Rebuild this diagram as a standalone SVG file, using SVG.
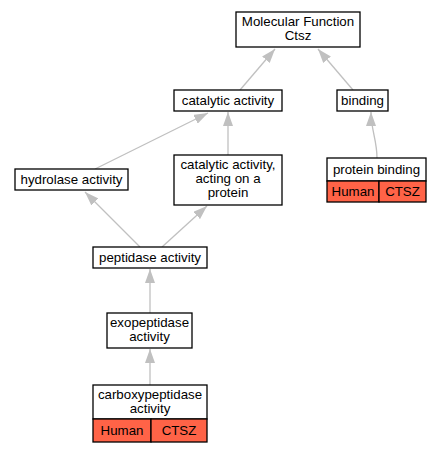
<svg xmlns="http://www.w3.org/2000/svg" width="440" height="453" viewBox="0 0 440 453">
<defs>
<marker id="ah" viewBox="0 0 14 10" refX="14" refY="5" markerWidth="14" markerHeight="10" markerUnits="userSpaceOnUse" orient="auto">
<path d="M0,0 L14,5 L0,10 z" fill="#c0c0c0"/>
</marker>
</defs>
<style>
.n{fill:#fff;stroke:#000;stroke-width:1.3}
.r{fill:#ff6347;stroke:#000;stroke-width:1.3}
.t{font-family:"Liberation Sans",Arial,sans-serif;font-size:13.3px;text-anchor:middle;fill:#000}
.e{fill:none;stroke:#c0c0c0;stroke-width:1.3;marker-end:url(#ah)}
</style>
<rect width="440" height="453" fill="#fff"/>
<g id="edges">
<path class="e" d="M240,90 L275,49"/>
<path class="e" d="M353,90 L318,49"/>
<path class="e" d="M377,158 C377,140 371,130 371,112"/>
<path class="e" d="M95,169 L208,113"/>
<path class="e" d="M228,155 L228,112"/>
<path class="e" d="M140,247 L85,192"/>
<path class="e" d="M162,247 L207,206"/>
<path class="e" d="M150,313 L150,269"/>
<path class="e" d="M150,385 L150,349"/>
</g>
<g id="mf">
<rect class="n" x="236" y="12" width="124" height="35"/>
<text class="t" x="298" y="26">Molecular Function</text>
<text class="t" x="298" y="40">Ctsz</text>
</g>
<g id="catalytic">
<rect class="n" x="174" y="90" width="108" height="21"/>
<text class="t" x="228" y="105">catalytic activity</text>
</g>
<g id="binding">
<rect class="n" x="337" y="90" width="51" height="21"/>
<text class="t" x="362.5" y="105">binding</text>
</g>
<g id="hydrolase">
<rect class="n" x="15" y="169" width="113" height="21"/>
<text class="t" x="71.5" y="184">hydrolase activity</text>
</g>
<g id="catprot">
<rect class="n" x="174" y="155" width="108" height="50"/>
<text class="t" x="228" y="169">catalytic activity,</text>
<text class="t" x="228" y="183">acting on a</text>
<text class="t" x="228" y="197">protein</text>
</g>
<g id="protbinding">
<rect class="n" x="327" y="158" width="99" height="23"/>
<text class="t" x="376.5" y="174">protein binding</text>
<rect class="r" x="327" y="181" width="52" height="21"/>
<rect class="r" x="379" y="181" width="47" height="21"/>
<text class="t" x="353" y="196">Human</text>
<text class="t" x="402.5" y="196">CTSZ</text>
</g>
<g id="peptidase">
<rect class="n" x="93" y="247" width="114" height="21"/>
<text class="t" x="150" y="262">peptidase activity</text>
</g>
<g id="exopeptidase">
<rect class="n" x="107" y="313" width="85" height="35"/>
<text class="t" x="149.5" y="327">exopeptidase</text>
<text class="t" x="149.5" y="341">activity</text>
</g>
<g id="carboxy">
<rect class="n" x="93" y="385" width="114" height="34"/>
<text class="t" x="150" y="399">carboxypeptidase</text>
<text class="t" x="150" y="413">activity</text>
<rect class="r" x="93" y="419" width="58" height="23"/>
<rect class="r" x="151" y="419" width="56" height="23"/>
<text class="t" x="122" y="435">Human</text>
<text class="t" x="179" y="435">CTSZ</text>
</g>
</svg>
